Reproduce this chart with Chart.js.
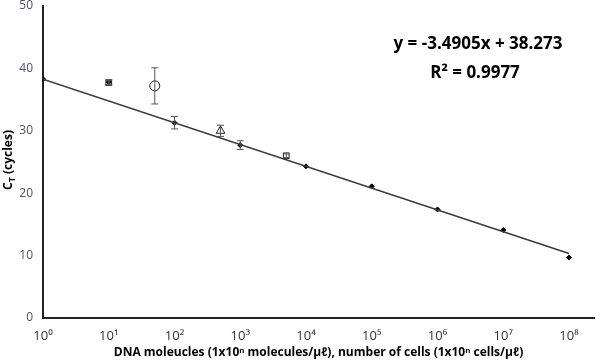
<!DOCTYPE html>
<html>
<head>
<meta charset="utf-8">
<script src="https://cdn.jsdelivr.net/npm/chart.js@4"></script>
<style>
  html, body { margin: 0; padding: 0; background: #fff; }
  #wrap { width: 600px; height: 362px; }
</style>
</head>
<body>
<div id="wrap"><canvas id="grafikCt"></canvas></div>
<script>
// log10 of concentration (x) and CT values
const dnaLog = [0, 1, 2, 3, 4, 5, 6, 7, 8];
const dnaCt = [38.3, 37.8, 31.3, 27.7, 24.3, 21.1, 17.4, 14.1, 9.7];
const dnaErr = [0, 0.4, 1.0, 0.7, 0, 0, 0, 0, 0];

const cellLog = [1, 1.7, 2.7, 3.7];
const cellCt = [37.7, 37.2, 30.0, 26.0];
const cellErr = [0.4, 2.9, 0.9, 0.3];
const cellShapes = ['rect', 'circle', 'triangle', 'rect'];

const trendLog = [0, 8];
const trendCt = [38.273, 10.349];

const xTickLabels = ['10⁰', '10¹', '10²', '10³', '10⁴', '10⁵', '10⁶', '10⁷', '10⁸'];
const yTicks = [0, 10, 20, 30, 40, 50];

const eqLine1 = 'y = -3.4905x + 38.273';
const eqLine2 = 'R² = 0.9977';

const fontFam = '"Open Sans", "Noto Sans", sans-serif';

// error bars + equation + y title (chart.js has no error bars)
const extras = {
    id: 'extras',
    afterDatasetsDraw(chart) {
        const ctx = chart.ctx;
        const xs = chart.scales.x, ys = chart.scales.y;
        ctx.save();
        ctx.strokeStyle = '#555';
        ctx.lineWidth = 1;
        const bars = (xv, yv, ev) => {
            xv.forEach((v, i) => {
                if (!ev[i]) return;
                const px = xs.getPixelForValue(v);
                const top = ys.getPixelForValue(yv[i] + ev[i]);
                const bot = ys.getPixelForValue(yv[i] - ev[i]);
                ctx.beginPath();
                ctx.moveTo(px, top); ctx.lineTo(px, bot);
                ctx.moveTo(px - 3.5, top); ctx.lineTo(px + 3.5, top);
                ctx.moveTo(px - 3.5, bot); ctx.lineTo(px + 3.5, bot);
                ctx.stroke();
            });
        };
        bars(dnaLog, dnaCt, dnaErr);
        bars(cellLog, cellCt, cellErr);

        // trendline equation
        ctx.fillStyle = '#000';
        ctx.font = 'bold 17px ' + fontFam;
        ctx.textAlign = 'center';
        ctx.textBaseline = 'middle';
        ctx.fillText(eqLine1, 478, 44);
        ctx.fillText(eqLine2, 475, 73);

        // y title with subscript
        ctx.translate(9, 160);
        ctx.rotate(-Math.PI / 2);
        ctx.font = 'bold 12px ' + fontFam;
        ctx.textAlign = 'left';
        const rest = ' (cycles)';
        const wC = ctx.measureText('C').width;
        ctx.font = 'bold 9px ' + fontFam;
        const wT = ctx.measureText('T').width;
        ctx.font = 'bold 12px ' + fontFam;
        const total = wC + wT + ctx.measureText(rest).width;
        let x0 = -total / 2;
        ctx.fillText('C', x0, 0);
        ctx.font = 'bold 9px ' + fontFam;
        ctx.fillText('T', x0 + wC, 3);
        ctx.font = 'bold 12px ' + fontFam;
        ctx.fillText(rest, x0 + wC + wT, 0);
        ctx.restore();
    }
};

const ctx = document.getElementById('grafikCt').getContext('2d');
const myChart = new Chart(ctx, {
    type: 'scatter',
    data: {
        datasets: [
            {
                label: 'trend',
                type: 'line',
                data: trendLog.map((x, i) => ({ x: x, y: trendCt[i] })),
                borderColor: '#3a3a3a',
                borderWidth: 1.5,
                pointRadius: 0,
                fill: false
            },
            {
                label: 'DNA',
                data: dnaLog.map((x, i) => ({ x: x, y: dnaCt[i] })),
                pointStyle: 'rectRot',
                pointRadius: 2.5,
                backgroundColor: '#000',
                borderColor: '#000',
                borderWidth: 1
            },
            {
                label: 'cells',
                data: cellLog.map((x, i) => ({ x: x, y: cellCt[i] })),
                pointStyle: cellShapes,
                pointRadius: [4, 5, 5, 4],
                backgroundColor: 'rgba(0,0,0,0)',
                borderColor: '#222',
                borderWidth: 1
            }
        ]
    },
    options: {
        responsive: true,
        maintainAspectRatio: false,
        animation: false,
        layout: { padding: { top: 5, right: 3, left: 0, bottom: 0 } },
        plugins: {
            legend: { display: false },
            tooltip: { enabled: false }
        },
        scales: {
            x: {
                type: 'linear',
                min: 0,
                max: 8.38,
                afterBuildTicks: (s) => { s.ticks = xTickLabels.map((t, i) => ({ value: i })); },
                afterFit: (s) => { s.height = 44; s.paddingLeft = 0; s.paddingRight = 0; },
                grid: { display: false, drawTicks: false },
                border: { display: true, color: '#222', width: 2 },
                ticks: {
                    padding: 10,
                    color: '#333',
                    font: { family: fontFam, size: 13 },
                    maxRotation: 0,
                    autoSkip: false,
                    callback: (v) => xTickLabels[v]
                },
                title: {
                    display: true,
                    text: 'DNA moleucles (1x10ⁿ molecules/μℓ), number of cells (1x10ⁿ cells/μℓ)',
                    color: '#000',
                    font: { family: fontFam, size: 12, weight: 'bold' },
                    padding: { top: 0, bottom: 2 }
                }
            },
            y: {
                min: 0,
                max: 50,
                afterBuildTicks: (s) => { s.ticks = yTicks.map(v => ({ value: v })); },
                afterFit: (s) => { s.width = 43; s.paddingTop = 0; s.paddingBottom = 0; },
                grid: { display: false, drawTicks: false },
                border: { display: true, color: '#222', width: 2 },
                ticks: {
                    padding: 10,
                    color: '#4a5366',
                    font: { family: fontFam, size: 12 }
                }
            }
        }
    },
    plugins: [extras]
});
</script>
</body>
</html>
